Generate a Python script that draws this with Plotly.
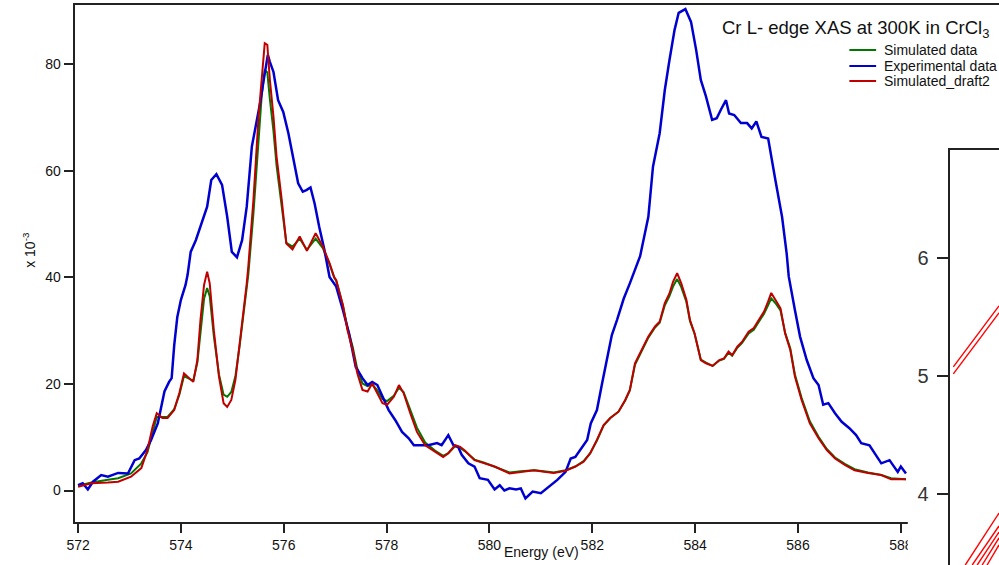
import plotly.graph_objects as go

# ---------------- data ----------------
exp_x = [572.00, 572.09, 572.19, 572.29, 572.45, 572.58, 572.78, 572.97, 573.10, 573.19,
         573.32, 573.42, 573.55, 573.68, 573.77, 573.82, 573.87, 573.93, 574.00, 574.09,
         574.13, 574.19, 574.29, 574.41, 574.51, 574.59, 574.69, 574.80, 574.90, 574.99,
         575.09, 575.19, 575.28, 575.38, 575.47, 575.55, 575.60, 575.65, 575.69, 575.73,
         575.80, 575.89, 575.99, 576.09, 576.18, 576.28, 576.37, 576.44, 576.52, 576.60,
         576.69, 576.79, 576.89, 577.02, 577.15, 577.27, 577.40, 577.53, 577.63, 577.72,
         577.82, 577.92, 578.04, 578.17, 578.30, 578.43, 578.53, 578.69, 578.81, 578.98,
         579.07, 579.20, 579.30, 579.39, 579.46, 579.59, 579.71, 579.81, 579.97, 580.10,
         580.20, 580.29, 580.39, 580.52, 580.61, 580.70, 580.84, 581.00, 581.16, 581.32,
         581.48, 581.58, 581.67, 581.80, 581.90, 581.97, 582.09, 582.19, 582.28, 582.38,
         582.48, 582.61, 582.73, 582.83, 582.93, 583.09, 583.18, 583.31, 583.41, 583.50,
         583.60, 583.68, 583.81, 583.92, 584.02, 584.11, 584.21, 584.33, 584.42, 584.50,
         584.60, 584.66, 584.76, 584.89, 585.01, 585.10, 585.19, 585.29, 585.42, 585.56,
         585.69, 585.78, 585.82, 585.94, 586.04, 586.17, 586.30, 586.40, 586.49, 586.59,
         586.72, 586.85, 587.00, 587.13, 587.23, 587.39, 587.49, 587.62, 587.78, 587.88,
         587.94, 588.00, 588.10]
exp_y = [1.0, 1.35, 0.2, 1.65, 2.9, 2.6, 3.3, 3.2, 5.7, 6.0,
         7.6, 9.5, 12.6, 18.6, 20.4, 21.1, 27.3, 32.6, 35.8, 38.6,
         40.5, 44.8, 47.0, 50.5, 53.3, 58.3, 59.4, 57.4, 51.4, 44.8,
         43.8, 47.0, 53.3, 64.6, 69.0, 73.3, 76.5, 79.3, 81.8, 80.5,
         78.6, 73.3, 71.1, 67.1, 62.7, 57.7, 56.1, 56.4, 56.9, 53.9,
         49.5, 45.2, 40.1, 38.3, 33.9, 29.5, 23.2, 21.1, 19.8, 20.4,
         19.8, 17.6, 15.1, 13.2, 11.0, 9.8, 8.5, 8.5, 8.5, 8.9,
         8.5, 10.4, 8.5, 8.2, 6.7, 5.1, 4.5, 2.3, 2.0, 0.2,
         1.0, 0.0, 0.4, 0.2, 0.4, -1.5, -0.2, -0.5, 0.7, 2.0,
         3.5, 6.0, 6.3, 8.2, 9.5, 12.6, 15.1, 20.1, 24.5, 29.2,
         32.0, 36.0, 38.9, 41.4, 44.0, 51.4, 60.8, 67.1, 75.2, 80.8,
         86.5, 89.7, 90.4, 88.0, 82.7, 77.1, 74.0, 69.6, 69.9, 71.5,
         73.3, 70.8, 70.5, 69.0, 69.0, 68.0, 69.3, 66.4, 66.1, 58.3,
         51.4, 44.5, 40.2, 33.9, 28.9, 24.5, 21.1, 19.8, 16.1, 16.4,
         14.5, 12.9, 11.7, 10.4, 8.9, 8.5, 7.0, 5.1, 5.7, 4.2,
         3.5, 4.5, 3.2]

sim_x = [572.00, 572.26, 572.58, 572.78, 573.03, 573.23, 573.35, 573.45, 573.53, 573.64,
         573.74, 573.87, 573.97, 574.06, 574.16, 574.24, 574.32, 574.38, 574.45, 574.51,
         574.56, 574.64, 574.74, 574.83, 574.90, 574.98, 575.06, 575.14, 575.22, 575.28,
         575.31, 575.41, 575.51, 575.57, 575.63, 575.68, 575.73, 575.80, 575.86, 575.96,
         576.05, 576.17, 576.31, 576.45, 576.62, 576.76, 576.89, 576.98, 577.02, 577.15,
         577.24, 577.34, 577.43, 577.53, 577.63, 577.72, 577.82, 577.92, 578.01, 578.14,
         578.24, 578.33, 578.46, 578.59, 578.75, 578.94, 579.10, 579.20, 579.33, 579.43,
         579.52, 579.71, 579.90, 580.10, 580.39, 580.61, 580.87, 581.06, 581.25, 581.48,
         581.67, 581.83, 581.96, 582.09, 582.22, 582.35, 582.51, 582.64, 582.73, 582.83,
         582.96, 583.09, 583.22, 583.31, 583.41, 583.50, 583.57, 583.65, 583.73, 583.83,
         583.90, 583.99, 584.11, 584.21, 584.34, 584.47, 584.56, 584.65, 584.72, 584.82,
         584.91, 585.04, 585.14, 585.24, 585.34, 585.42, 585.48, 585.56, 585.66, 585.75,
         585.85, 585.94, 586.07, 586.23, 586.40, 586.56, 586.72, 586.91, 587.10, 587.36,
         587.62, 587.81, 588.00, 588.10]
draft2_y = [0.7, 1.35, 1.5, 1.65, 2.6, 4.2, 7.6, 12.0, 14.5, 13.6,
            13.6, 15.1, 18.3, 22.0, 21.1, 20.4, 24.5, 32.0, 38.6, 41.1,
            38.9, 30.1, 21.4, 16.4, 15.7, 17.0, 20.8, 27.0, 33.3, 38.9,
            42.0, 54.6, 70.2, 77.7, 84.0, 83.7, 77.1, 70.2, 62.7, 54.6,
            46.4, 45.3, 47.7, 45.0, 48.3, 45.8, 42.7, 40.1, 39.5, 34.8,
            30.1, 26.4, 22.0, 18.9, 18.6, 20.1, 18.3, 16.4, 16.1, 17.6,
            19.8, 18.3, 14.5, 11.0, 8.5, 7.3, 6.3, 7.0, 8.5, 8.2,
            7.5, 5.7, 5.1, 4.5, 3.2, 3.5, 3.8, 3.5, 3.3, 3.7,
            4.5, 5.4, 7.0, 9.5, 12.3, 13.6, 14.8, 17.0, 18.9, 23.9,
            26.4, 28.9, 30.8, 31.7, 35.2, 37.0, 39.2, 40.8, 38.9, 35.8,
            32.0, 29.5, 24.5, 23.9, 23.4, 24.5, 24.8, 26.1, 25.4, 27.0,
            27.9, 29.8, 30.5, 32.0, 33.6, 35.5, 37.1, 35.8, 34.2, 29.5,
            26.4, 21.4, 17.0, 12.6, 9.8, 7.6, 6.0, 4.8, 3.8, 3.3,
            2.9, 2.1, 2.1, 2.1]
sim_y = [0.9, 1.5, 2.0, 2.3, 3.2, 5.1, 7.2, 10.8, 13.8, 13.8,
         13.8, 15.3, 18.0, 21.5, 21.0, 20.6, 24.0, 30.0, 36.0, 38.0,
         36.5, 29.0, 21.8, 18.0, 17.6, 18.5, 21.5, 27.0, 33.0, 38.0,
         40.5, 52.0, 66.5, 74.0, 79.0, 78.5, 73.5, 67.5, 61.0, 53.5,
         46.5, 45.8, 47.3, 45.2, 47.3, 45.5, 42.5, 40.0, 39.4, 34.8,
         30.5, 27.0, 22.8, 20.1, 19.6, 19.9, 18.8, 17.2, 16.8, 17.8,
         19.3, 18.5, 15.2, 11.8, 9.0, 7.5, 6.5, 7.0, 8.3, 8.0,
         7.4, 5.8, 5.2, 4.5, 3.4, 3.6, 3.8, 3.6, 3.4, 3.8,
         4.5, 5.5, 7.0, 9.4, 12.2, 13.6, 14.8, 16.9, 18.8, 23.6,
         26.2, 28.7, 30.6, 31.5, 34.8, 36.5, 38.3, 39.7, 38.2, 35.4,
         31.8, 29.4, 24.6, 24.0, 23.4, 24.4, 24.7, 25.9, 25.3, 26.8,
         27.7, 29.5, 30.2, 31.7, 33.2, 34.8, 36.1, 35.2, 33.8, 29.6,
         26.7, 21.8, 17.4, 13.0, 10.1, 7.8, 6.2, 5.0, 4.0, 3.4,
         2.9, 2.3, 2.1, 2.1]

x_ticks = [572, 574, 576, 578, 580, 582, 584, 586, 588]
y_ticks = [0, 20, 40, 60, 80]
series_names = ["Simulated data", "Experimental data", "Simulated_draft2"]
series_colors = ["#007800", "#0000d0", "#c00000"]

# inset (partially visible second graph)
inset_ticks = [4, 5, 6]
inset_seg_x = [[0.06, 1.0], [0.06, 1.0], [0.306, 1.0], [0.449, 1.0], [0.551, 1.0], [0.653, 1.0], [0.755, 1.0]]
inset_seg_y = [[5.076, 5.592], [5.017, 5.533], [3.399, 3.839], [3.399, 3.729], [3.399, 3.678], [3.399, 3.628], [3.399, 3.569]]

# ---------------- layout helpers ----------------
W, H = 999, 565
def px(x):
    return x / W
def py(y):
    return (H - y) / H

FONT = "Liberation Sans, Arial, Helvetica, sans-serif"
AX = "#222222"

fig = go.Figure()
fig.add_trace(go.Scatter(x=sim_x, y=sim_y, mode="lines", name=series_names[0],
                         line=dict(color=series_colors[0], width=2)))
fig.add_trace(go.Scatter(x=exp_x, y=exp_y, mode="lines", name=series_names[1],
                         line=dict(color=series_colors[1], width=2.5)))
fig.add_trace(go.Scatter(x=sim_x, y=draft2_y, mode="lines", name=series_names[2],
                         line=dict(color=series_colors[2], width=2)))

# empty subplot acting as the white background of the overlapping second graph
fig.add_trace(go.Scatter(x=[None], y=[None], xaxis="x2", yaxis="y2", showlegend=False, hoverinfo="skip"))

# inset lines
ix, iy = [], []
for sx, sy in zip(inset_seg_x, inset_seg_y):
    ix += sx + [None]
    iy += sy + [None]
fig.add_trace(go.Scatter(x=ix, y=iy, xaxis="x3", yaxis="y3", mode="lines", showlegend=False,
                         line=dict(color="#ff0000", width=1.4), hoverinfo="skip"))

fig.update_layout(
    width=W, height=H,
    margin=dict(l=0, r=0, t=0, b=0),
    paper_bgcolor="white", plot_bgcolor="white",
    showlegend=False,
    font=dict(family=FONT, color="#111"),
    xaxis=dict(domain=[px(67), 1], range=[571.948, 589.909], tickvals=x_ticks,
               ticktext=[str(v) for v in x_ticks], ticks="outside", ticklen=9, tickwidth=1.5,
               tickcolor=AX, showline=True, linecolor=AX, linewidth=1.5, mirror=True,
               showgrid=False, zeroline=False, tickfont=dict(size=14, color="#111"), anchor="y"),
    yaxis=dict(domain=[py(522), py(5)], range=[-5.915, 91.17], tickvals=y_ticks,
               ticks="outside", ticklen=10, tickwidth=1.5, tickcolor=AX, showline=True,
               linecolor=AX, linewidth=1.5, showgrid=False, zeroline=False,
               tickfont=dict(size=14, color="#111"), anchor="x"),
    xaxis2=dict(domain=[px(907), 1], range=[0, 1], showline=False, showticklabels=False,
                ticks="", showgrid=False, zeroline=False, anchor="y2"),
    yaxis2=dict(domain=[0, py(95)], range=[0, 1], showline=False, showticklabels=False,
                ticks="", showgrid=False, zeroline=False, anchor="x2"),
    xaxis3=dict(domain=[px(950), 1], range=[0, 1], side="top", showline=True, linecolor=AX,
                linewidth=1.5, showticklabels=False, ticks="", showgrid=False, zeroline=False,
                anchor="y3"),
    yaxis3=dict(domain=[0, py(150)], range=[3.399, 6.911], tickvals=inset_ticks, ticks="outside",
                ticklen=12, tickwidth=1.5, tickcolor=AX, showline=True, linecolor=AX, linewidth=1.5,
                ticklabelstandoff=4,
                showgrid=False, zeroline=False, tickfont=dict(size=20, color="#333"), anchor="x3"),
)

annotations = [
    dict(text="Cr L- edge XAS at 300K in CrCl<sub>3</sub>", x=px(717), y=py(29), xanchor="left",
         yanchor="middle", font=dict(size=18.5, color="#111")),
    dict(text="Energy (eV)", x=px(497), y=py(551.5), xanchor="left", yanchor="middle",
         font=dict(size=14, color="#111")),
    dict(text="x 10<sup>-3</sup>", x=px(20), y=py(250), xanchor="center", yanchor="middle",
         textangle=-90, font=dict(size=14, color="#111")),
]
legend_rows = [50, 66, 81]
shapes = []
for name, color, yr in zip(series_names, series_colors, legend_rows):
    annotations.append(dict(text=name, x=px(881), y=py(yr), xanchor="left", yanchor="middle",
                            font=dict(size=14, color="#111")))
    shapes.append(dict(type="line", xref="paper", yref="paper", x0=px(848), x1=px(875),
                       y0=py(yr), y1=py(yr), line=dict(color=color, width=2)))
for a in annotations:
    a.update(xref="paper", yref="paper", showarrow=False)
fig.update_layout(annotations=annotations, shapes=shapes)

fig.write_html("out.html")
